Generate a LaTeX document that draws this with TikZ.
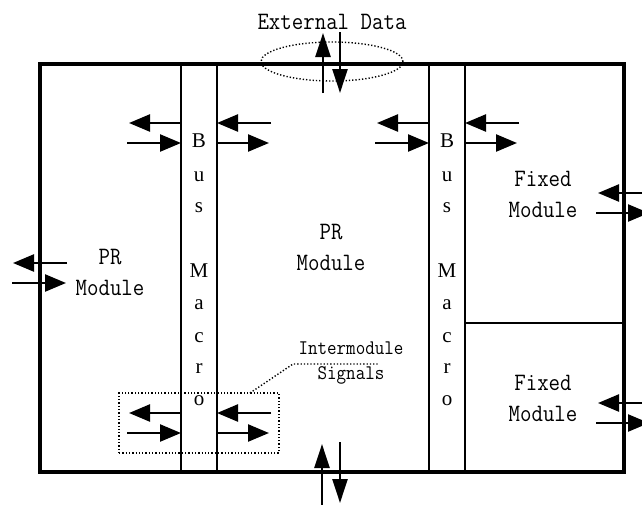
\documentclass[tikz,border=0pt]{standalone}
\usepackage{fontspec}
\newfontfamily\busfont{Liberation Serif}
\newfontfamily\lmm[FakeStretch=0.89]{Latin Modern Mono}
\usetikzlibrary{arrows.meta,shapes.geometric}
\begin{document}
\begin{tikzpicture}[x=1pt,y=-1pt,
  lbl/.style={font=\lmm\fontsize{25}{31}\selectfont, align=center, inner sep=0pt},
  small/.style={font=\lmm\fontsize{20.8}{25}\selectfont, align=center, inner sep=0pt},
  busl/.style={font=\busfont\fontsize{21}{21}\selectfont, inner sep=0pt, anchor=base},
  arr/.style={line width=2.4pt, -{Triangle[length=21pt,width=17pt]}},
  varr/.style={line width=2.4pt, -{Triangle[length=24pt,width=15pt]}},
  thin/.style={line width=1.8pt},
  dots/.style={line width=1.4pt, dash pattern=on 1.3pt off 2pt}]
\useasboundingbox (0,0) rectangle (642,504);
% outer frame
\node[draw, line width=4.5pt, minimum width=584pt, minimum height=408pt, inner sep=0pt] (frame) at (332,268) {};
% bus macros
\node[draw, thin, minimum width=36pt, minimum height=408pt, inner sep=0pt] (bm1) at (199,268) {};
\node[draw, thin, minimum width=36pt, minimum height=408pt, inner sep=0pt] (bm2) at (447,268) {};
% divider
\coordinate (dl) at (465,323);
\coordinate (dr) at (624,323);
\draw[thin] (dl) -- (dr);
% bus macro letters
\foreach \ch/\yy in {B/147,u/181,s/212,M/277,a/309,c/342,r/373,o/405}{
  \node[busl] at (199,\yy) {\ch};
  \node[busl] at (447,\yy) {\ch};
}
% texts
\node[lbl, anchor=base] (ext) at (332,29) {External Data};
\node[lbl] (prl) at (110,272) {PR\\Module};
\node[lbl] (prc) at (331,247) {PR\\Module};
\node[lbl] (fx1) at (543,194) {Fixed\\Module};
\node[lbl] (fx2) at (543,398) {Fixed\\Module};
\node[small] (ims) at (351,363) {Intermodule\\Signals};
% ellipse
\node[draw, dots, ellipse, minimum width=142pt, minimum height=39pt, inner sep=0pt] (ell) at (332,61.5) {};
% dotted box and leader
\node[draw, dots, minimum width=160pt, minimum height=60pt, inner sep=0pt] (dbox) at (199,423) {};
\coordinate (ld1) at (250,393);
\coordinate (ld2) at (293,364);
\coordinate (ld3) at (378,364);
\draw[dots] (ld1) -- (ld2) -- (ld3);
% horizontal arrows at bus macros (top, both macros)
\foreach \dx in {0,248}{
  \draw[arr] (181+\dx,123) -- (129+\dx,123);
  \draw[arr] (271+\dx,123) -- (217+\dx,123);
  \draw[arr] (127+\dx,143) -- (181+\dx,143);
  \draw[arr] (216+\dx,143) -- (269+\dx,143);
}
% bottom arrows (left macro only)
\draw[arr] (181,413) -- (129,413);
\draw[arr] (271,413) -- (217,413);
\draw[arr] (127,433) -- (181,433);
\draw[arr] (216,433) -- (269,433);
% left edge arrows
\draw[arr] (67,263) -- (13,263);
\draw[arr] (12,283) -- (66,283);
% right edge arrows
\foreach \yy in {193,403}{
  \draw[arr] (645,\yy) -- (598,\yy);
  \draw[arr] (596,\yy+20) -- (649,\yy+20);
}
% vertical arrows
\draw[varr] (323,93) -- (323,33);
\draw[varr] (340,32) -- (340,93);
\draw[varr] (322,506) -- (322,444);
\draw[varr] (340,442) -- (340,503);
\end{tikzpicture}
\end{document}
